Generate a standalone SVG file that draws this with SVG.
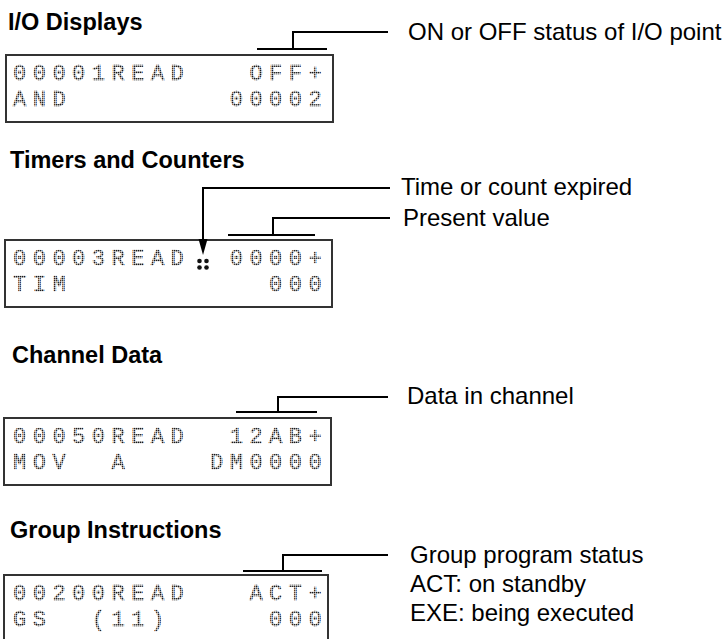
<svg xmlns="http://www.w3.org/2000/svg" width="723" height="639" viewBox="0 0 723 639">
  <style>
    .hd { font-family: "Liberation Sans", Arial, sans-serif; font-weight: bold; font-size: 23.5px; fill: #000; }
    .lb { font-family: "Liberation Sans", Arial, sans-serif; font-size: 24px; fill: #000; }
    .panel { fill: #fff; stroke: #333; stroke-width: 2; }
    .lcd { font-family: "Liberation Mono", "DejaVu Sans Mono", monospace; font-size: 22px; letter-spacing: 6.5px; fill: url(#dots); stroke: url(#dots); stroke-width: 0.5; }
    .con { fill: none; stroke: #000; stroke-width: 2; }
  </style>
  <defs>
    <pattern id="dots" width="2" height="2" patternUnits="userSpaceOnUse">
      <rect width="1.4" height="1.4" fill="#1a1a1a"/>
    </pattern>
  </defs>
  <rect width="723" height="639" fill="#fff"/>

  <g id="io-displays">
    <text class="hd" x="8" y="30">I/O Displays</text>
    <rect class="panel" x="6" y="55" width="327" height="67"/>
    <text class="lcd" x="13" y="80">00001READ</text>
    <text class="lcd" x="249.4" y="80">OFF+</text>
    <text class="lcd" x="13" y="106">AND</text>
    <text class="lcd" x="229.7" y="106">00002</text>
    <text class="lb" x="408" y="40">ON or OFF status of I/O point</text>
  </g>

  <g id="timers-counters">
    <text class="hd" x="10" y="168">Timers and Counters</text>
    <rect class="panel" x="5" y="240" width="327" height="67"/>
    <text class="lcd" x="13" y="265">00003READ</text>
    <g id="expired-dots" fill="#111">
      <circle cx="199.5" cy="261" r="2.3"/>
      <circle cx="206.5" cy="261" r="2.3"/>
      <circle cx="199.5" cy="267.5" r="2.3"/>
      <circle cx="206.5" cy="267.5" r="2.3"/>
    </g>
    <text class="lcd" x="229.7" y="265">0000+</text>
    <text class="lcd" x="13" y="291">TIM</text>
    <text class="lcd" x="269.1" y="291">000</text>
    <text class="lb" x="401" y="195">Time or count expired</text>
    <text class="lb" x="403" y="226">Present value</text>
  </g>

  <g id="channel-data">
    <text class="hd" x="12" y="363">Channel Data</text>
    <rect class="panel" x="4" y="418" width="327" height="67"/>
    <text class="lcd" x="13" y="443">00050READ</text>
    <text class="lcd" x="229.7" y="443">12AB+</text>
    <text class="lcd" x="13" y="469">MOV</text>
    <text class="lcd" x="111.5" y="469">A</text>
    <text class="lcd" x="210" y="469">DM0000</text>
    <text class="lb" x="407" y="404">Data in channel</text>
  </g>

  <g id="group-instructions">
    <text class="hd" x="10" y="538">Group Instructions</text>
    <rect class="panel" x="4" y="575" width="324" height="67"/>
    <text class="lcd" x="13" y="600">00200READ</text>
    <text class="lcd" x="249.4" y="600">ACT+</text>
    <text class="lcd" x="13" y="626">GS</text>
    <text class="lcd" x="91.8" y="626">(11)</text>
    <text class="lcd" x="269.1" y="626">000</text>
    <text class="lb" x="410" y="563">Group program status</text>
    <text class="lb" x="410" y="592">ACT: on standby</text>
    <text class="lb" x="410" y="621">EXE: being executed</text>
  </g>

  <g id="connectors">
    <path class="con" d="M257,49 H327 M293,49 V32 H388"/>
    <path class="con" d="M390,188 H203 V241"/>
    <path d="M198.5,239 L207.5,239 L203,255 Z" fill="#000"/>
    <path class="con" d="M228,235 H315 M273,235 V218 H390"/>
    <path class="con" d="M236,412 H317 M278,412 V397 H388"/>
    <path class="con" d="M243,571 H322 M283,571 V555 H388"/>
  </g>
</svg>
